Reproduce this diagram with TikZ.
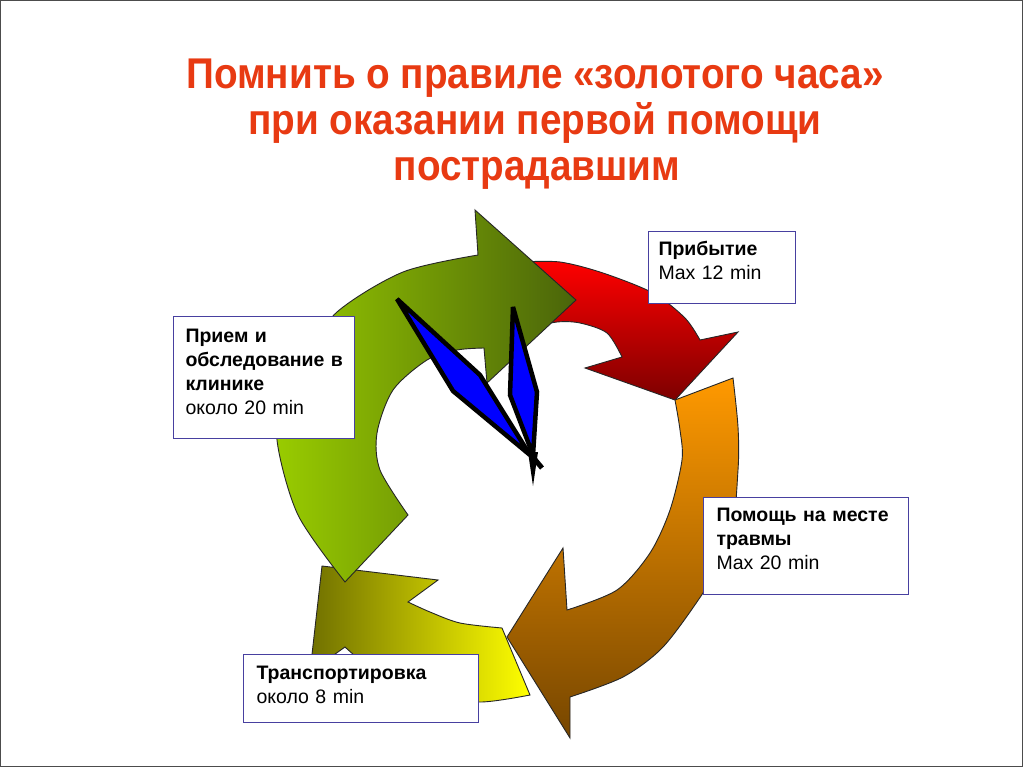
\documentclass[tikz,border=0pt]{standalone}
\usepackage{fontspec}
\setmainfont{Liberation Sans}
\newfontfamily\titlefont[FakeStretch=0.9]{Liberation Sans}
\definecolor{titlered}{RGB}{232,58,18}
\definecolor{boxframe}{RGB}{72,64,160}
\definecolor{grlight}{RGB}{153,204,0}
\definecolor{grdark}{RGB}{74,100,10}
\definecolor{rdlight}{RGB}{255,0,0}
\definecolor{rddark}{RGB}{125,0,0}
\definecolor{ortop}{RGB}{255,153,0}
\definecolor{orbot}{RGB}{118,70,0}
\definecolor{yelight}{RGB}{255,255,0}
\definecolor{yedark}{RGB}{112,112,0}
\definecolor{handblue}{RGB}{0,0,255}
\tikzset{
  arrowshape/.style={draw=black!85, line width=0.9pt, line join=miter},
  handshape/.style={fill=handblue, draw=black, line width=4.5pt, line join=miter, miter limit=4},
  infobox/.style={draw=boxframe, line width=1pt, fill=white, anchor=north west, inner ysep=0pt, align=left,
    font=\fontsize{19.5}{24}\selectfont},
  titleline/.style={text=titlered, anchor=base, inner sep=0pt, font=\titlefont\bfseries\fontsize{43}{46}\selectfont}
}
\begin{document}
\begin{tikzpicture}[x=1pt,y=-1pt]
\useasboundingbox (0,0) rectangle (1024,768);
\fill[white] (0,0) rectangle (1024,768);
\draw[gray!60!black, line width=1.2pt] (0.8,0.8) rectangle (1022.3,766.5);

% red arrow
\path[arrowshape, top color=rdlight, bottom color=rddark]
  (520,262) -- plot[smooth] coordinates {(520,262) (560,262) (603,273) (653,293) (685,318) (700,340)}
  -- (738,332) -- (675,400) -- (585,368) -- (622,357)
  -- plot[smooth] coordinates {(622,357) (607,333) (580,323) (557,322) (530,328)} -- cycle;

% orange arrow
\path[arrowshape, top color=ortop, bottom color=orbot]
  (675,400) -- (733,378)
  -- plot[smooth] coordinates {(733,378) (738,427) (738,470) (730,547) (703,593) (663,647) (623,677) (570,697)}
  -- (570,738) -- (507,637) -- (563,548) -- (567,610)
  -- plot[smooth] coordinates {(567,610) (617,590) (650,553) (670,510) (682,460) (680,430) (675,400)} -- cycle;

% yellow arrow
\path[arrowshape, left color=yedark, right color=yelight]
  (502,628) -- (530,695)
  -- plot[smooth] coordinates {(530,695) (480,702) (430,694) (380,675) (345,647)}
  -- (310,672) -- (322,566) -- (438,580) -- (408,602)
  -- plot[smooth] coordinates {(408,602) (430,612) (460,623) (502,628)} -- cycle;

% green arrow
\path[arrowshape, left color=grlight, right color=grdark]
  (345,582) -- plot[smooth] coordinates {(345,582) (298,515) (277,440) (285,392) (303,360) (337,312) (403,272) (478,255)}
  -- (475,210) -- (576,300) -- (487,383) -- (484,348)
  -- plot[smooth] coordinates {(484,348) (457,350) (427,360) (393,390) (377,433) (380,470) (408,515)} -- cycle;

% clock hands
\path[handshape] (397,299) -- (480,375) -- (530,455) -- (453,391) -- cycle;
\draw[black, line width=5pt] (527,450) -- (542,468);
\path[handshape] (513,307) -- (537,392) -- (533,455) -- (510,395) -- cycle;
\fill[black] (528,452) -- (538,452) -- (533,486) -- cycle;

% boxes
\node[infobox, inner xsep=10pt, text width=127pt] (arrival) at (648,231)
  {\rule{0pt}{24pt}\textbf{Прибытие}\\Max 12 min\rule[-24pt]{0pt}{0pt}};
\node[infobox, inner xsep=12pt, text width=157pt] (clinic) at (173,316)
  {\rule{0pt}{26pt}\textbf{Прием и}\\\mbox{\textbf{обследование в}}\\\textbf{клинике}\\около 20 min\rule[-24pt]{0pt}{0pt}};
\node[infobox, inner xsep=13pt, text width=179pt] (scene) at (703,497)
  {\rule{0pt}{24pt}\mbox{\textbf{Помощь на месте}}\\\textbf{травмы}\\Max 20 min\rule[-25pt]{0pt}{0pt}};
\node[infobox, inner xsep=13pt, text width=209pt] (transport) at (243,654)
  {\rule{0pt}{25pt}\textbf{Транспортировка}\\около 8 min\rule[-19pt]{0pt}{0pt}};

% title
\node[titleline] (t1) at (535,88) {Помнить о правиле «золотого часа»};
\node[titleline] (t2) at (535,134) {при оказании первой помощи};
\node[titleline] (t3) at (537,180) {пострадавшим};
\end{tikzpicture}
\end{document}
